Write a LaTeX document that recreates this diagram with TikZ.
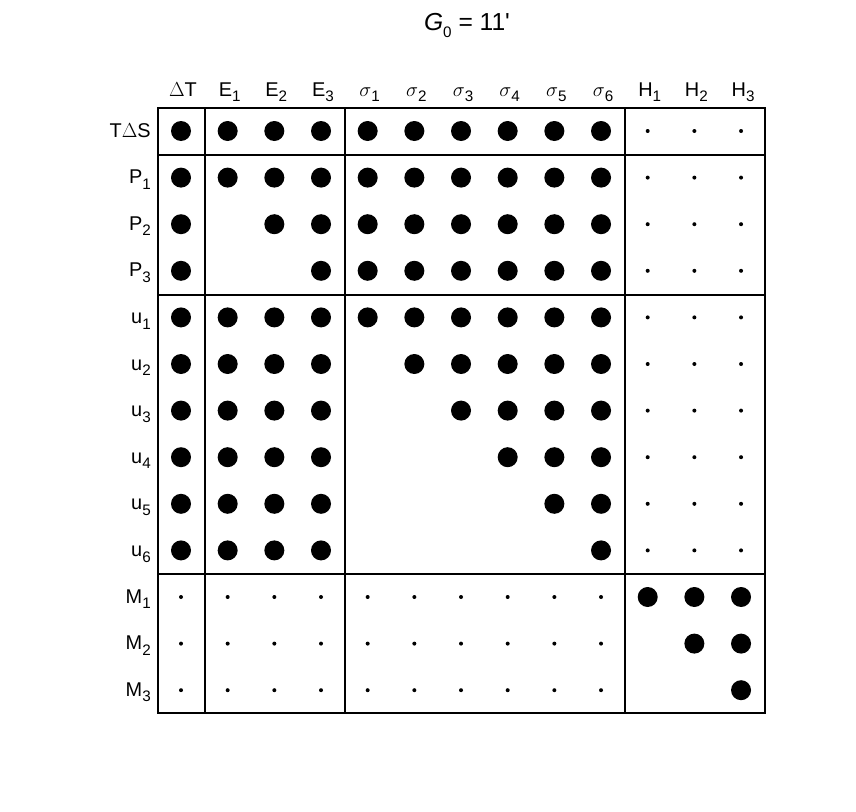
\documentclass[tikz,border=0pt]{standalone}
\usepackage{fontspec}
\setmainfont{Liberation Sans}
\newcommand{\lsub}[1]{\raisebox{-0.55ex}{\fontsize{13}{13}\selectfont #1}}
\begin{document}
\begin{tikzpicture}[
	x=0.03cm, y=-0.03cm,
	big/.style={circle, fill=black, inner sep=0pt, minimum size=0.6cm},
	small/.style={circle, fill=black, inner sep=0pt, minimum size=0.12cm},
	lab/.style={font=\fontsize{17}{20}\selectfont, inner sep=0pt}
	]
\useasboundingbox (0,0) rectangle (856,812);
\node[lab, font=\fontsize{21}{24}\selectfont, anchor=base] at (467,30) (title){\textit{G}\lsub{0} = 11\textquotesingle};

% column labels
\foreach \t [count=\j] in {$\Delta$T, E\lsub{1}, E\lsub{2}, E\lsub{3}, $\sigma$\lsub{1}, $\sigma$\lsub{2}, $\sigma$\lsub{3}, $\sigma$\lsub{4}, $\sigma$\lsub{5}, $\sigma$\lsub{6}, H\lsub{1}, H\lsub{2}, H\lsub{3}}
	\node[lab, anchor=base] at ({183+(\j-1)*46.67},96) (c\j){\t};
% row labels
\foreach \t [count=\i] in {T$\Delta$S, P\lsub{1}, P\lsub{2}, P\lsub{3}, u\lsub{1}, u\lsub{2}, u\lsub{3}, u\lsub{4}, u\lsub{5}, u\lsub{6}, M\lsub{1}, M\lsub{2}, M\lsub{3}}
	\node[lab, anchor=base east] at (151,{137+(\i-1)*46.6}) (r\i){\t};

% big dots
\foreach \i/\cols in {1/{1,...,10}, 2/{1,...,10}, 3/{1,3,4,...,10}, 4/{1,4,5,...,10},
	5/{1,...,10}, 6/{1,2,3,4,6,7,8,9,10}, 7/{1,2,3,4,7,8,9,10}, 8/{1,2,3,4,8,9,10},
	9/{1,2,3,4,9,10}, 10/{1,2,3,4,10}, 11/{11,12,13}, 12/{12,13}, 13/{13}}
	\foreach \j in \cols
		\node[big] at ({181+(\j-1)*46.67},{131+(\i-1)*46.6}) (d\i-\j){};
% small dots
\foreach \i in {1,...,10}
	\foreach \j in {11,12,13}
		\node[small] at ({181+(\j-1)*46.67},{131+(\i-1)*46.6}) (d\i-\j){};
\foreach \i in {11,12,13}
	\foreach \j in {1,...,10}
		\node[small] at ({181+(\j-1)*46.67},{131+(\i-1)*46.6}) (d\i-\j){};

% blocks
\draw[line width=2pt] (158,108) rectangle (765,713);
\foreach \x in {205,345,625}
	\draw[line width=2pt] (\x,108) -- (\x,713);
\foreach \y in {155,295,574}
	\draw[line width=2pt] (158,\y) -- (765,\y);
\end{tikzpicture}
\end{document}
